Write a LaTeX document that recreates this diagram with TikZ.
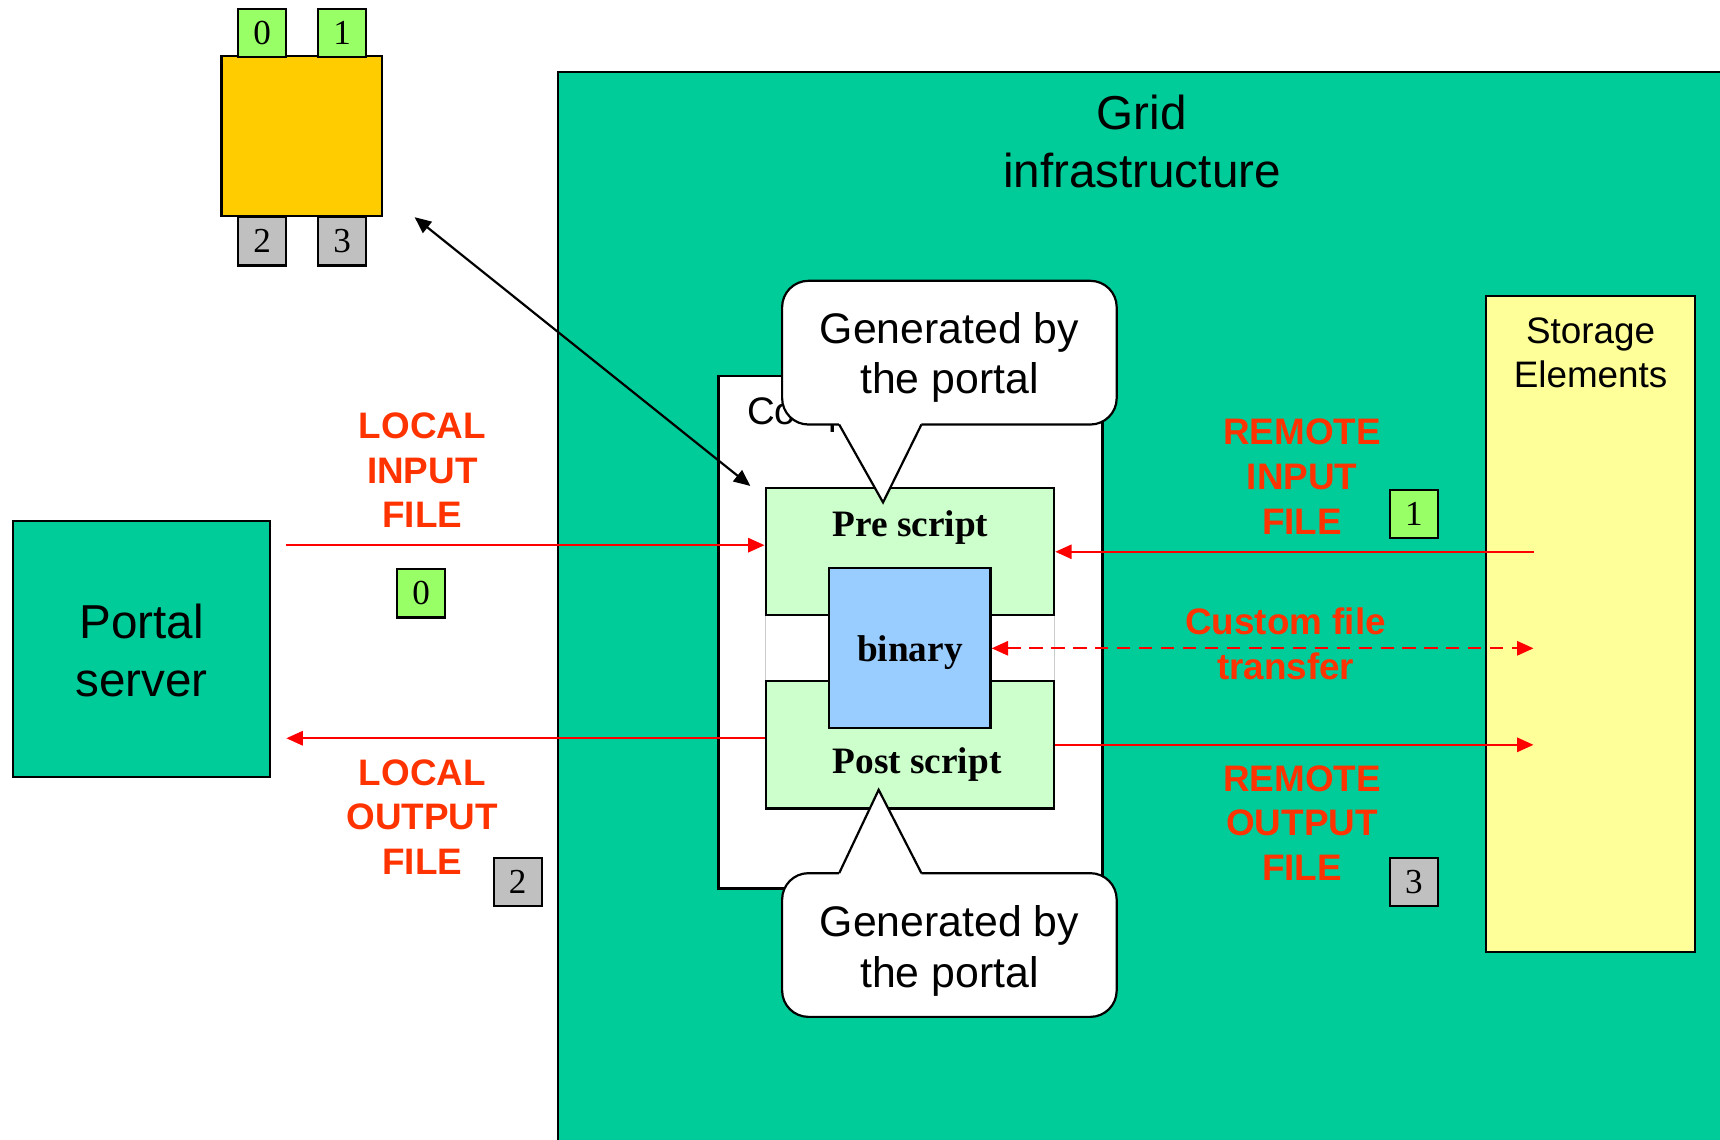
\documentclass[tikz,border=0pt]{standalone}
\usepackage{fontspec}
\setmainfont{Liberation Serif}
\setsansfont{Liberation Sans}
\usetikzlibrary{arrows.meta}
\definecolor{gridgreen}{HTML}{00CC99}
\definecolor{chipyellow}{HTML}{FFCC00}
\definecolor{portgreen}{HTML}{99FF66}
\definecolor{portgray}{HTML}{C0C0C0}
\definecolor{scriptgreen}{HTML}{CCFFCC}
\definecolor{binblue}{HTML}{99CCFF}
\definecolor{seyellow}{HTML}{FFFF99}
\definecolor{labelred}{HTML}{FF3300}
\definecolor{linered}{HTML}{FF0000}
\begin{document}
\begin{tikzpicture}
  [x=0.5pt, y=-0.5pt, line width=1pt,
   box/.style={draw, line width=1pt, inner sep=0pt},
   port/.style={box, minimum size=22pt, font=\fontsize{16}{16}\selectfont},
   big/.style={font=\sffamily\fontsize{21.7}{26.5}\selectfont, align=center},
   say/.style={font=\sffamily\fontsize{19.5}{23}\selectfont, align=center},
   small/.style={font=\sffamily\fontsize{16.8}{20}\selectfont, align=center},
   tag/.style={font=\sffamily\bfseries\fontsize{16.8}{20.3}\selectfont, align=center, text=labelred},
   bold/.style={font=\bfseries\fontsize{17}{17}\selectfont},
   redtip/.style={-{Triangle[length=7.5pt,width=6.5pt]}},
   flow/.style={draw=linered, line width=1pt, redtip},
   link/.style={draw=black, line width=1pt, {Triangle[length=7.5pt,width=6.5pt]}-{Triangle[length=7.5pt,width=6.5pt]}}]
  \useasboundingbox (0,0) rectangle (1568,1039);

  \node (grid) at (1044.5,558) [box, fill=gridgreen, minimum width=535.5pt, minimum height=492pt] {};
  \node (gridtitle) at (1041,129) [big] {Grid\\infrastructure};

  \node (chip) at (275,124) [box, fill=chipyellow, minimum size=73pt] {};
  \node (p0) at (239,30) [port, fill=portgreen] {0};
  \node (p1) at (312,30) [port, fill=portgreen] {1};
  \node (p2) at (239,220) [port, fill=portgray] {2};
  \node (p3) at (312,220) [port, fill=portgray] {3};

  \node (portal) at (129,591.5) [box, fill=gridgreen, minimum width=117pt, minimum height=116.5pt] {};
  \node (portaltext) at (129,593) [big] {Portal\\server};

  \node (se) at (1450,569) [box, fill=seyellow, minimum width=95pt, minimum height=299pt] {};
  \node (setext) at (1450,322) [small] {Storage\\Elements};

  \node (ce) at (830,576.5) [box, fill=white, minimum width=175pt, minimum height=233.5pt] {};
  \node (celabel) at (680,387) [anchor=base west, inner sep=0pt, font=\sffamily\fontsize{17.5}{21}\selectfont] {Comp};

  \node (gap) at (829.5,591) [draw=gray!40, line width=0.5pt, fill=white, minimum width=131.5pt, minimum height=30pt] {};
  \node (pre) at (829.5,503) [box, fill=scriptgreen, minimum width=131.5pt, minimum height=58pt] {};
  \node (post) at (829.5,679) [box, fill=scriptgreen, minimum width=131.5pt, minimum height=58pt] {};
  \node (pretext) at (830,481) [bold] {Pre script};
  \node (posttext) at (836,697) [bold] {Post script};
  \node (binary) at (829.5,591) [box, fill=binblue, minimum width=73.5pt, minimum height=73pt] {};
  \node (bintext) at (829.5,595) [bold] {binary};

  \draw[fill=white, rounded corners=12pt] (713,256) rectangle (1018,387);
  \fill[white] (765,380) -- (840,380) -- (840,387) -- (805,458) -- (765,387) -- cycle;
  \draw (765,387) -- (805,458) -- (840,387);
  \node (saytop) at (865.5,326) [say] {Generated by\\the portal};

  \draw[fill=white, rounded corners=12pt] (713,796) rectangle (1018,927);
  \fill[white] (765,803) -- (840,803) -- (840,796) -- (801,720) -- (765,796) -- cycle;
  \draw (765,796) -- (801,720) -- (840,796);
  \node (saybot) at (865.5,867) [say] {Generated by\\the portal};

  \node (localin) at (385,429) [tag] {LOCAL\\INPUT\\FILE};
  \node (localout) at (385,744.5) [tag] {LOCAL\\OUTPUT\\FILE};
  \node (remotein) at (1187,434.5) [tag] {REMOTE\\INPUT\\FILE};
  \node (remoteout) at (1187,750) [tag] {REMOTE\\OUTPUT\\FILE};
  \node (custom) at (1172,587) [tag] {Custom file\\transfer};

  \node (n0) at (384,541) [port, fill=portgreen] {0};
  \node (n2) at (472,804) [port, fill=portgray] {2};
  \node (n1) at (1289,468.5) [port, fill=portgreen] {1};
  \node (n3) at (1289,804) [port, fill=portgray] {3};

  \coordinate (lin) at (261,497);
  \coordinate (lout) at (261,673);
  \coordinate (rin) at (1398,503);
  \coordinate (cft) at (1398,591);
  \coordinate (rout) at (1398,679);
  \coordinate (chipend) at (378,198);
  \coordinate (ceend) at (684,443);

  \draw (lin) edge[flow] (lin -| pre.west);
  \draw (lout -| post.west) edge[flow] (lout);
  \draw (rin) edge[flow] (pre.east);
  \draw (post.east) edge[flow] (rout);
  \draw (binary.east) edge[flow, dash pattern=on 6pt off 4pt, {Triangle[length=7.5pt,width=6.5pt]}-{Triangle[length=7.5pt,width=6.5pt]}] (cft);
  \draw (chipend) edge[link] (ceend);
\end{tikzpicture}
\end{document}
